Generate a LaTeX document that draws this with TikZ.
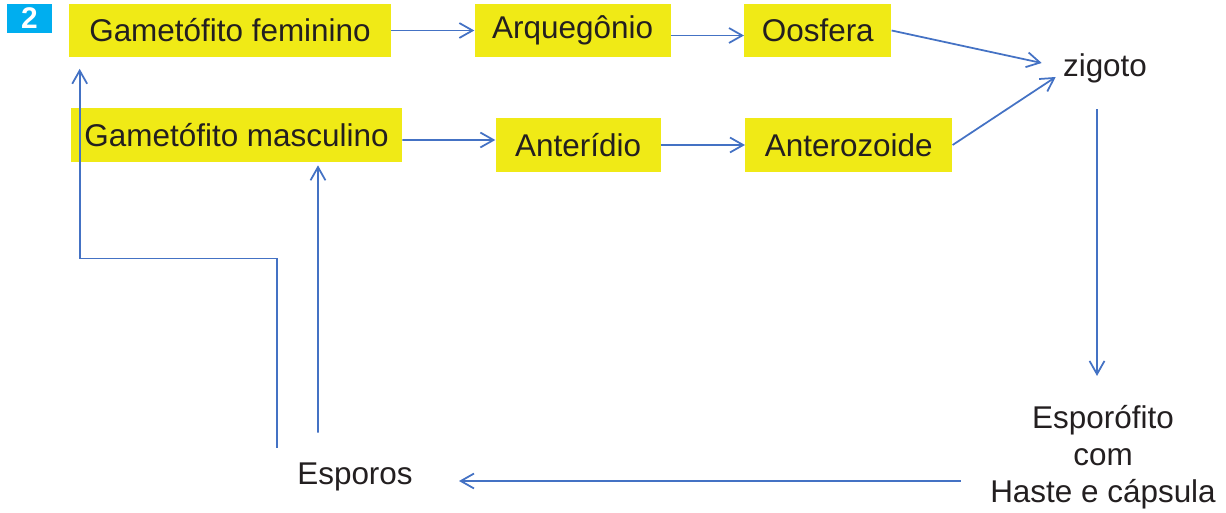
\documentclass[tikz,border=0pt]{standalone}
\usepackage{fontspec}
\setmainfont{Liberation Sans}
\usetikzlibrary{arrows.meta}
\usetikzlibrary{positioning}
\usetikzlibrary{calc}

\definecolor{boxyellow}{RGB}{240,234,22}
\definecolor{flowblue}{RGB}{68,114,196}
\definecolor{inkdark}{RGB}{35,31,32}
\definecolor{badgecyan}{RGB}{0,174,239}

\begin{document}
\begin{tikzpicture}[
                x=0.02cm, y=-0.02cm,
                >={Straight Barb[length=7.5pt,width=8.5pt]},
                lbl/.style={font=\fontsize{17.9pt}{21pt}\selectfont, text=inkdark, inner sep=0pt},
                stage/.style={lbl, fill=boxyellow, minimum height=1.08cm},
                flow/.style={draw=flowblue, line width=1pt, ->}
            ]
            \useasboundingbox (0,0) rectangle (1226,513);

            % Define nodes
            \node[fill=badgecyan, text=white, font=\bfseries\fontsize{17pt}{17pt}\selectfont,
                  minimum width=0.9cm, minimum height=0.58cm, inner sep=0pt] (badge) at (29.5,18.5) {2};

            \node[stage, minimum width=6.44cm] (fem) at (230,30.5) {Gametófito feminino};
            \node[stage, minimum width=3.92cm, right=1.66cm of fem] (arq) {Arquegônio};
            \node[stage, minimum width=2.94cm, right=1.46cm of arq] (oos) {Oosfera};

            \node[stage, minimum width=6.62cm] (masc) at (236.5,135) {Gametófito masculino};
            \node[stage, minimum width=3.3cm, right=1.86cm of masc, yshift=-0.2cm] (ant) {Anterídio};
            \node[stage, minimum width=4.14cm, right=1.68cm of ant] (anz) {Anterozoide};

            \node[lbl] (zig) at (1105,68) {zigoto};
            \node[lbl, align=center] (spor) at (1103,457) {Esporófito\\com\\Haste e cápsula};
            \node[lbl] (esp) at (355,477) {Esporos};

            % Arrows connecting boxes
            \draw[flow] (fem.east) -- (arq.west);
            \draw[flow] ([yshift=-0.1cm]arq.east) -- ([yshift=-0.1cm]oos.west);
            \draw[flow] ([yshift=-0.1cm]masc.east) -- ([yshift=0.1cm]ant.west);
            \draw[flow] (ant.east) -- (anz.west);
            \draw[flow] (oos.east) -- ([xshift=-0.42cm,yshift=0.1cm]zig.west);
            \draw[flow] (anz.east) -- ([xshift=-0.14cm,yshift=-0.18cm]zig.west);

            % Cycle back through the spores
            \draw[flow] ([xshift=-0.16cm,yshift=-0.52cm]zig.south) -- ([xshift=-0.12cm,yshift=0.58cm]spor.north);
            \draw[flow] ([xshift=-0.58cm,yshift=-0.48cm]spor.west) -- ([xshift=0.92cm,yshift=-0.08cm]esp.east);
            \draw[flow] ([xshift=-1.56cm,yshift=0.3cm]esp.north) -- ++(0,-189) -| ([xshift=0.22cm,yshift=-0.22cm]fem.south west);
            \draw[flow] ([xshift=-0.74cm,yshift=0.6cm]esp.north) -- ([xshift=1.63cm,yshift=-0.06cm]masc.south);

        \end{tikzpicture}
\end{document}
